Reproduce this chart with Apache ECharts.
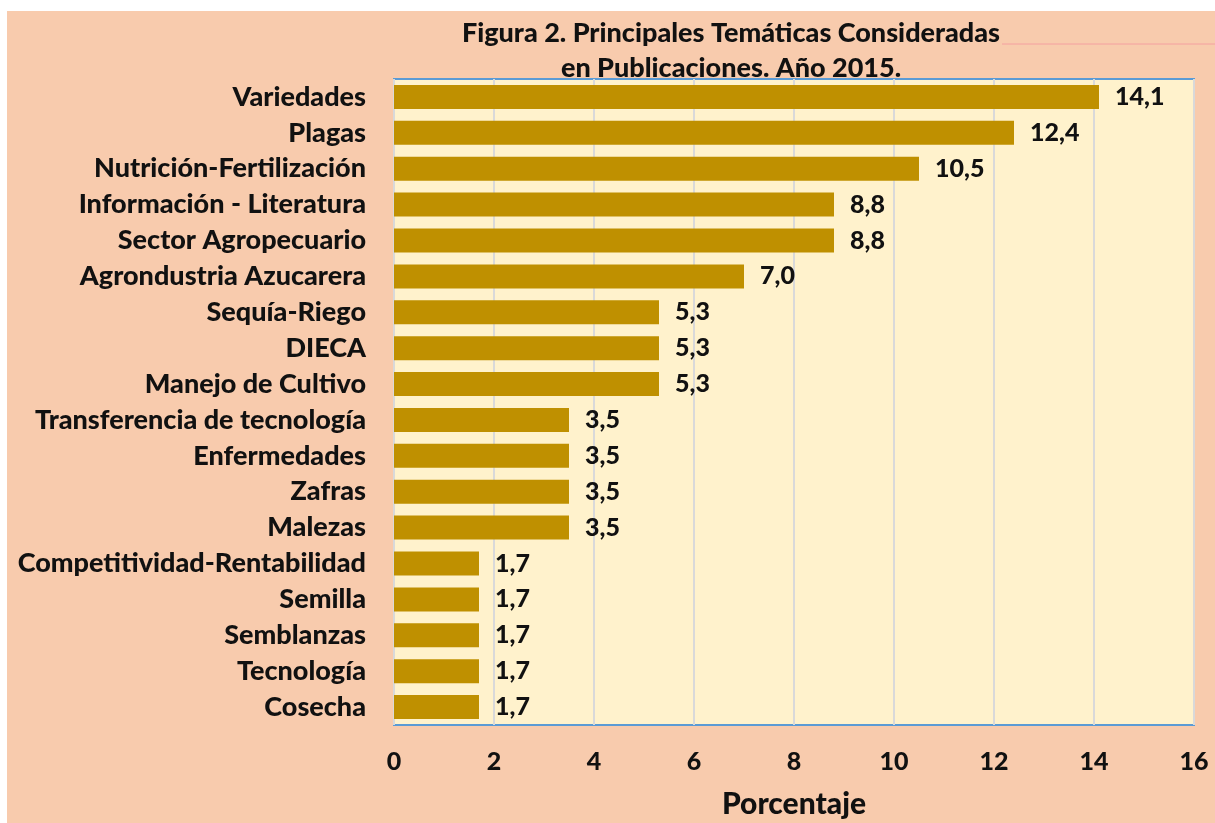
<!DOCTYPE html>
<html><head><meta charset="utf-8">
<script src="https://cdn.jsdelivr.net/npm/echarts@6/dist/echarts.min.js"></script>
<style>html,body{margin:0;padding:0;background:#fff}#c{width:1215px;height:823px}</style>
</head><body><div id="c"></div>
<script>
const categories = ["Variedades","Plagas","Nutrición-Fertilización","Información - Literatura","Sector Agropecuario","Agrondustria Azucarera","Sequía-Riego","DIECA","Manejo de Cultivo","Transferencia de tecnología","Enfermedades","Zafras","Malezas","Competitividad-Rentabilidad","Semilla","Semblanzas","Tecnología","Cosecha"];
const values = [14.1,12.4,10.5,8.8,8.8,7.0,5.3,5.3,5.3,3.5,3.5,3.5,3.5,1.7,1.7,1.7,1.7,1.7];
const titleLines = ["Figura 2. Principales Temáticas Consideradas","en Publicaciones. Año 2015."];
const axisName = "Porcentaje";
const FONT = "Lato";
const W = 900;
const chart = echarts.init(document.getElementById('c'));
chart.setOption({
  animation:false,
  backgroundColor:'#ffffff',
  graphic:[
    {type:'rect',left:7,top:11,shape:{width:1208,height:812},style:{fill:'#f8cbad'},z:-10},
    {type:'line',shape:{x1:1002,y1:44,x2:1215,y2:44},style:{stroke:'#f4a0a0',lineWidth:1},z:-5},
    {type:'text',x:731,y:33,style:{text:titleLines[0],font:W+" 27px "+FONT,fill:'#111',align:'center',verticalAlign:'middle'}},
    {type:'text',x:731,y:68,style:{text:titleLines[1],font:W+" 27px "+FONT,fill:'#111',align:'center',verticalAlign:'middle'}}
  ],
  grid:{left:394,top:79,width:800,height:646,outerBoundsMode:'none',containLabel:false,
    backgroundColor:'#fff2cc',show:true,borderColor:'#5b9bd5',borderWidth:2},
  xAxis:{type:'value',min:0,max:16,interval:2,
    axisLine:{show:false},axisTick:{show:false},
    splitLine:{show:true,lineStyle:{color:'#d9d9d9',width:2}},
    axisLabel:{margin:24,fontFamily:FONT,fontWeight:W,fontSize:25,color:'#111'},
    name:axisName,nameLocation:'middle',nameGap:64,
    nameTextStyle:{fontFamily:FONT,fontWeight:W,fontSize:30,color:'#111'}},
  yAxis:{type:'category',data:categories,inverse:true,
    axisLine:{show:false},axisTick:{show:false},
    axisLabel:{margin:28,fontFamily:FONT,fontWeight:W,fontSize:27,color:'#111'}},
  series:[{type:'bar',data:values,barWidth:24,
    itemStyle:{color:'#bf9000'},
    label:{show:true,position:'right',distance:16,fontFamily:FONT,fontWeight:W,fontSize:25,color:'#111',
      formatter:p=>p.value.toFixed(1).replace('.',',')}}]
});
</script></body></html>
